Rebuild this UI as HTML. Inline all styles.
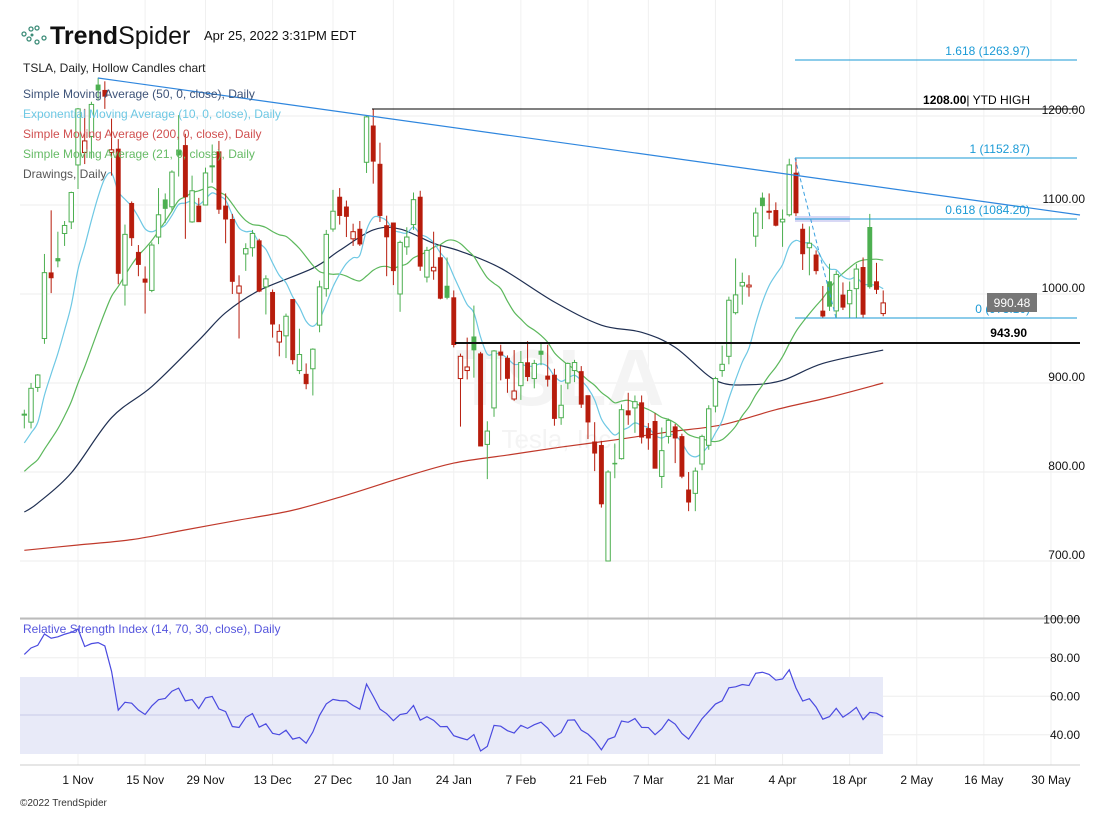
<!DOCTYPE html>
<html><head><meta charset="utf-8"><style>
body{margin:0;background:#fff;font-family:"Liberation Sans",sans-serif}
svg text{font-family:"Liberation Sans",sans-serif}
</style></head><body>
<svg id="c" width="1111" height="812" xmlns="http://www.w3.org/2000/svg">
<rect width="1111" height="812" fill="#fff"/>
<g id="grid"></g>
<text x="560" y="405" font-size="80" font-weight="bold" fill="#f4f4f4" text-anchor="middle">TSLA</text>
<text x="560" y="448" font-size="26" fill="#f4f4f4" text-anchor="middle">Tesla, Inc.</text>
<rect x="20" y="677" width="863" height="77" fill="#e8eaf8"/>
<line x1="20" y1="715" x2="883" y2="715" stroke="#c9cbe8"/>
<g id="ma"></g>
<g id="candles"></g>
<g id="draw">
<line x1="98" y1="78" x2="1080" y2="215" stroke="#2e86de" stroke-width="1.2"/>
<line x1="372" y1="109" x2="1077" y2="109" stroke="#000"/>
<text x="1030" y="104" font-size="12" text-anchor="end"><tspan font-weight="bold">1208.00</tspan>| YTD HIGH</text>
<line x1="795" y1="60" x2="1077" y2="60" stroke="#1a9ad6"/>
<text x="1030" y="55" font-size="12" fill="#1a9ad6" text-anchor="end">1.618 (1263.97)</text>
<line x1="795" y1="158" x2="1077" y2="158" stroke="#1a9ad6"/>
<text x="1030" y="153" font-size="12" fill="#1a9ad6" text-anchor="end">1 (1152.87)</text>
<rect x="795" y="216" width="55" height="6" fill="#d8d8f5"/>
<line x1="795" y1="219" x2="1077" y2="219" stroke="#1a9ad6"/>
<text x="1030" y="214" font-size="12" fill="#1a9ad6" text-anchor="end">0.618 (1084.20)</text>
<line x1="795" y1="318" x2="1077" y2="318" stroke="#1a9ad6"/>
<text x="1030" y="313" font-size="12" fill="#1a9ad6" text-anchor="end">0 (973.10)</text>
<line x1="795" y1="158" x2="836" y2="318" stroke="#3aa0e0" stroke-dasharray="4,3"/>
<line x1="455" y1="343" x2="1080" y2="343" stroke="#111" stroke-width="2"/>
<text x="1027" y="337" font-size="12" font-weight="bold" text-anchor="end">943.90</text>
</g>
<line x1="20" y1="618.5" x2="1080" y2="618.5" stroke="#bbb" stroke-width="2"/>
<line x1="20" y1="765" x2="1080" y2="765" stroke="#ccc"/>
<g id="rsi"></g>
<g id="axes"></g>
<rect x="987" y="293" width="50" height="19" fill="#777"/>
<text x="1012" y="307" font-size="12" fill="#fff" text-anchor="middle">990.48</text>
<g>
<circle cx="24" cy="34" r="2" fill="none" stroke="#3c8c78" stroke-width="1.3"/><circle cx="31" cy="29" r="2" fill="none" stroke="#3c8c78" stroke-width="1.3"/><circle cx="37" cy="28" r="2" fill="none" stroke="#3c8c78" stroke-width="1.3"/><circle cx="29" cy="39" r="2" fill="none" stroke="#3c8c78" stroke-width="1.3"/><circle cx="37" cy="42" r="2" fill="none" stroke="#3c8c78" stroke-width="1.3"/><circle cx="44" cy="38" r="2" fill="none" stroke="#3c8c78" stroke-width="1.3"/><circle cx="32" cy="35" r="1.5" fill="#3c8c78"/>
</g>
<text x="50" y="44" font-size="25" fill="#111"><tspan font-weight="bold">Trend</tspan>Spider</text>
<text x="204" y="40" font-size="13" fill="#111">Apr 25, 2022 3:31PM EDT</text>
<text x="23" y="72" font-size="12" fill="#222">TSLA, Daily, Hollow Candles chart</text>
<text x="23" y="98" font-size="12" fill="#3e5378">Simple Moving Average (50, 0, close), Daily</text>
<text x="23" y="118" font-size="12" fill="#6ec8e4">Exponential Moving Average (10, 0, close), Daily</text>
<text x="23" y="138" font-size="12" fill="#d05050">Simple Moving Average (200, 0, close), Daily</text>
<text x="23" y="158" font-size="12" fill="#66bb66">Simple Moving Average (21, 0, close), Daily</text>
<text x="23" y="178" font-size="12" fill="#555">Drawings, Daily</text>
<text x="23" y="633" font-size="12" fill="#5555dd">Relative Strength Index (14, 70, 30, close), Daily</text>
<text x="20" y="806" font-size="10" fill="#333">©2022 TrendSpider</text>
</svg>
<script>
const opens=[865,856,895,950,1024,1040,1068,1081,1145,1159,1177,1235,1229,1159,1163,1010,1102,1047,1017,1004,1064,1106,1098,1162,1167,1081,1099,1100,1144,1160,1099,1084,1001,1045,1052,1060,1008,1002,946,953,994,914,910,916,965,1006,1073,1109,1098,1062,1073,1148,1189,1146,1077,1080,1000,1053,1078,1109,1019,1026,1041,1009,996,905,914,952,933,831,872,935,928,882,897,923,905,936,908,909,861,900,914,913,886,834,830,700,810,815,869,872,878,849,857,795,840,851,840,780,776,809,830,874,914,930,979,1009,1008,1065,1108,1092,1094,1081,1089,1136,1073,1052,1044,981,1014,981,999,989,1006,1030,1075,1014,978];
const highs=[870,900,910,1045,1094,1070,1082,1115,1209,1208,1216,1243,1239,1197,1174,1078,1104,1055,1031,1058,1119,1113,1139,1201,1180,1133,1108,1142,1168,1172,1113,1090,1021,1057,1072,1062,1021,1005,966,978,994,961,922,939,1015,1072,1117,1119,1105,1079,1082,1201,1208,1170,1088,1080,1060,1075,1114,1116,1053,1070,1054,1041,1004,933,951,987,935,857,937,943,931,937,936,947,926,946,943,916,898,923,926,919,886,856,835,802,832,876,889,886,886,855,866,850,860,854,843,800,805,842,875,907,942,997,1040,1024,1021,1097,1114,1113,1103,1095,1152,1152,1079,1076,1049,1009,1034,1026,1013,1014,1034,1041,1090,1035,1004];
const lows=[849,849,890,944,1001,1030,1054,1073,1118,1146,1152,1218,1208,1133,1011,987,1054,1020,978,1002,1056,1080,1093,1132,1062,1080,1081,1100,1125,1090,1057,1000,950,1026,1042,1002,977,951,930,928,921,910,893,886,957,997,1070,1078,1064,1054,1054,1136,1124,1081,1020,1010,980,1044,1072,1026,1013,1016,994,994,940,851,904,906,830,792,862,903,889,880,881,902,894,920,896,852,853,893,901,872,837,801,760,700,793,814,853,844,832,825,804,782,832,810,793,756,756,802,825,867,907,921,977,988,997,1053,1073,1084,1076,1053,1087,1087,1027,1021,1022,973,981,973,982,973,973,973,1006,1000,975];
const closes=[865,894,909,1024,1018,1037,1077,1114,1208,1172,1213,1229,1222,1162,1023,1067,1063,1033,1013,1055,1089,1096,1137,1156,1109,1116,1081,1136,1144,1095,1084,1014,1009,1051,1068,1003,1017,966,958,975,926,932,899,938,1008,1067,1093,1088,1087,1070,1056,1199,1149,1088,1064,1026,1058,1064,1106,1031,1049,1030,995,996,943,930,918,937,829,846,936,931,905,891,923,907,922,932,904,860,875,922,923,876,856,821,764,800,809,870,864,879,839,838,804,824,858,838,795,766,801,840,871,905,921,993,999,1013,1010,1091,1099,1093,1077,1084,1145,1091,1045,1057,1026,975,986,1022,985,1004,1028,977,1008,1005,990];
const priorCloses=[730,739,751,753,774,777,781,791,777,775,775,782,781,793,805,785,791,805,811,818,843,870,864];
const sma50Idx=[0,2,7,13,19,26,30,35,43,47,52,56,61,65,71,79,86,92,97,103,108,113,119,128];
const sma50Vals=[755,765,799,861,896,948,979,1004,1029,1049,1072,1073,1057,1048,1029,991,965,957,940,903,898,903,922,937];
const sma200Idx=[0,8,16,24,32,40,48,56,64,72,80,88,96,104,112,120,128];
const sma200Vals=[712,718,724,735,746,757,774,793,810,819,828,836,845,853,870,884,900];
const priceTicks=[1200,1100,1000,900,800,700];
const rsiTicks=[100,80,60,40];
const dateLabels=["1 Nov","15 Nov","29 Nov","13 Dec","27 Dec","10 Jan","24 Jan","7 Feb","21 Feb","7 Mar","21 Mar","4 Apr","18 Apr","2 May","16 May","30 May"];
const dateIdx=[8,18,27,37,46,55,64,74,84,93,103,113,123,133,143,153];

const NS="http://www.w3.org/2000/svg";
const X=i=>78+(i-8)*6.71;
const Y=p=>116+(1200-p)*0.89;
const RY=r=>677+(70-r)*1.925;
function mk(tag,attrs,parent){const e=document.createElementNS(NS,tag);for(const k in attrs)e.setAttribute(k,attrs[k]);document.getElementById(parent).appendChild(e);return e;}

priceTicks.forEach(p=>{
  const g=mk('line',{x1:20,x2:1080,y1:Y(p),y2:Y(p),stroke:'#eeeeee'},'grid');
  
  
  const t=mk('text',{x:1085,y:Y(p)-2,'font-size':12,'text-anchor':'end',fill:'#111'},'axes');
  t.textContent=p.toFixed(2);
  
  
});
rsiTicks.forEach(r=>{
  const y=RY(r);
  const g=mk('line',{x1:20,x2:1080,y1:y,y2:y,stroke:'#eeeeee'},'grid');
  
  
  const t=mk('text',{x:1080,y:y+4,'font-size':12,'text-anchor':'end',fill:'#111'},'axes');
  t.textContent=r.toFixed(2);
  
  
});
dateLabels.forEach((d,k)=>{
  const x=X(dateIdx[k]);
  const g=mk('line',{x1:x,x2:x,y1:0,y2:765,stroke:'#f0f0f0'},'grid');
  
  
  const t=mk('text',{x:x,y:784,'font-size':12,'text-anchor':'middle',fill:'#111'},'axes');
  t.textContent=d;
  
  
});

const all=priorCloses.concat(closes), off=priorCloses.length;
function smooth(pts){
  let d='M'+pts[0][0]+','+pts[0][1];
  for(let i=0;i<pts.length-1;i++){
    const p0=pts[Math.max(0,i-1)],p1=pts[i],p2=pts[i+1],p3=pts[Math.min(pts.length-1,i+2)];
    const c1=[p1[0]+(p2[0]-p0[0])/6,p1[1]+(p2[1]-p0[1])/6],c2=[p2[0]-(p3[0]-p1[0])/6,p2[1]-(p3[1]-p1[1])/6];
    d+=' C'+c1.join(',')+' '+c2.join(',')+' '+p2.join(',');
  }
  return d;
}
function line(pts,color,name){
  const p=mk('path',{d:smooth(pts),fill:'none',stroke:color,'stroke-width':1.2},'ma');
  
  
}
line(sma200Idx.map((i,k)=>[X(i),Y(sma200Vals[k])]),'#c0392b','sma200-line');
line(sma50Idx.map((i,k)=>[X(i),Y(sma50Vals[k])]),'#1f2f52','sma50-line');
let sma21=[];
for(let i=0;i<closes.length;i++){const j=i+off;let s=0,n=0;for(let q=Math.max(0,j-20);q<=j;q++){s+=all[q];n++;}sma21.push([X(i),Y(s/n)]);}
line(sma21,'#5cb85c','sma21-line');
let e=all[0],ema=[];const a=2/11;
for(let j=1;j<all.length;j++){e=all[j]*a+e*(1-a);if(j>=off)ema.push([X(j-off),Y(e)]);}
line(ema,'#6ec8e4','ema10-line');

for(let i=0;i<closes.length;i++){
  const o=opens[i],c=closes[i],h=highs[i],l=lows[i];
  const prev=i>0?closes[i-1]:priorCloses[off-1];
  const col=c>=prev?'#4caf50':'#b71c0c';
  const x=X(i);
  const w=mk('line',{x1:x,x2:x,y1:Y(h),y2:Y(l),stroke:col,'stroke-width':1},'candles');
  
  
  const top=Y(Math.max(o,c)),bh=Math.max(1,Math.abs(Y(o)-Y(c)));
  const hollow=c>=o;
  const b=mk('rect',{x:x-2.2,y:top,width:4.4,height:bh,fill:hollow?'#fff':col,stroke:col,'stroke-width':hollow?1:0.5},'candles');
  
  
}

let gain=0,loss=0;const P=14;
for(let j=1;j<=P;j++){const d=all[j]-all[j-1];if(d>0)gain+=d;else loss-=d;}
gain/=P;loss/=P;let rsi=[];
for(let j=P+1;j<all.length;j++){const d=all[j]-all[j-1];gain=(gain*(P-1)+Math.max(d,0))/P;loss=(loss*(P-1)+Math.max(-d,0))/P;const r=100-100/(1+gain/loss);if(j>=off)rsi.push([X(j-off),RY(r)]);}
const rl=mk('polyline',{points:rsi.map(a=>a.join(',')).join(' '),fill:'none',stroke:'#4a4ae0','stroke-width':1.2},'rsi');


</script>
</body></html>
